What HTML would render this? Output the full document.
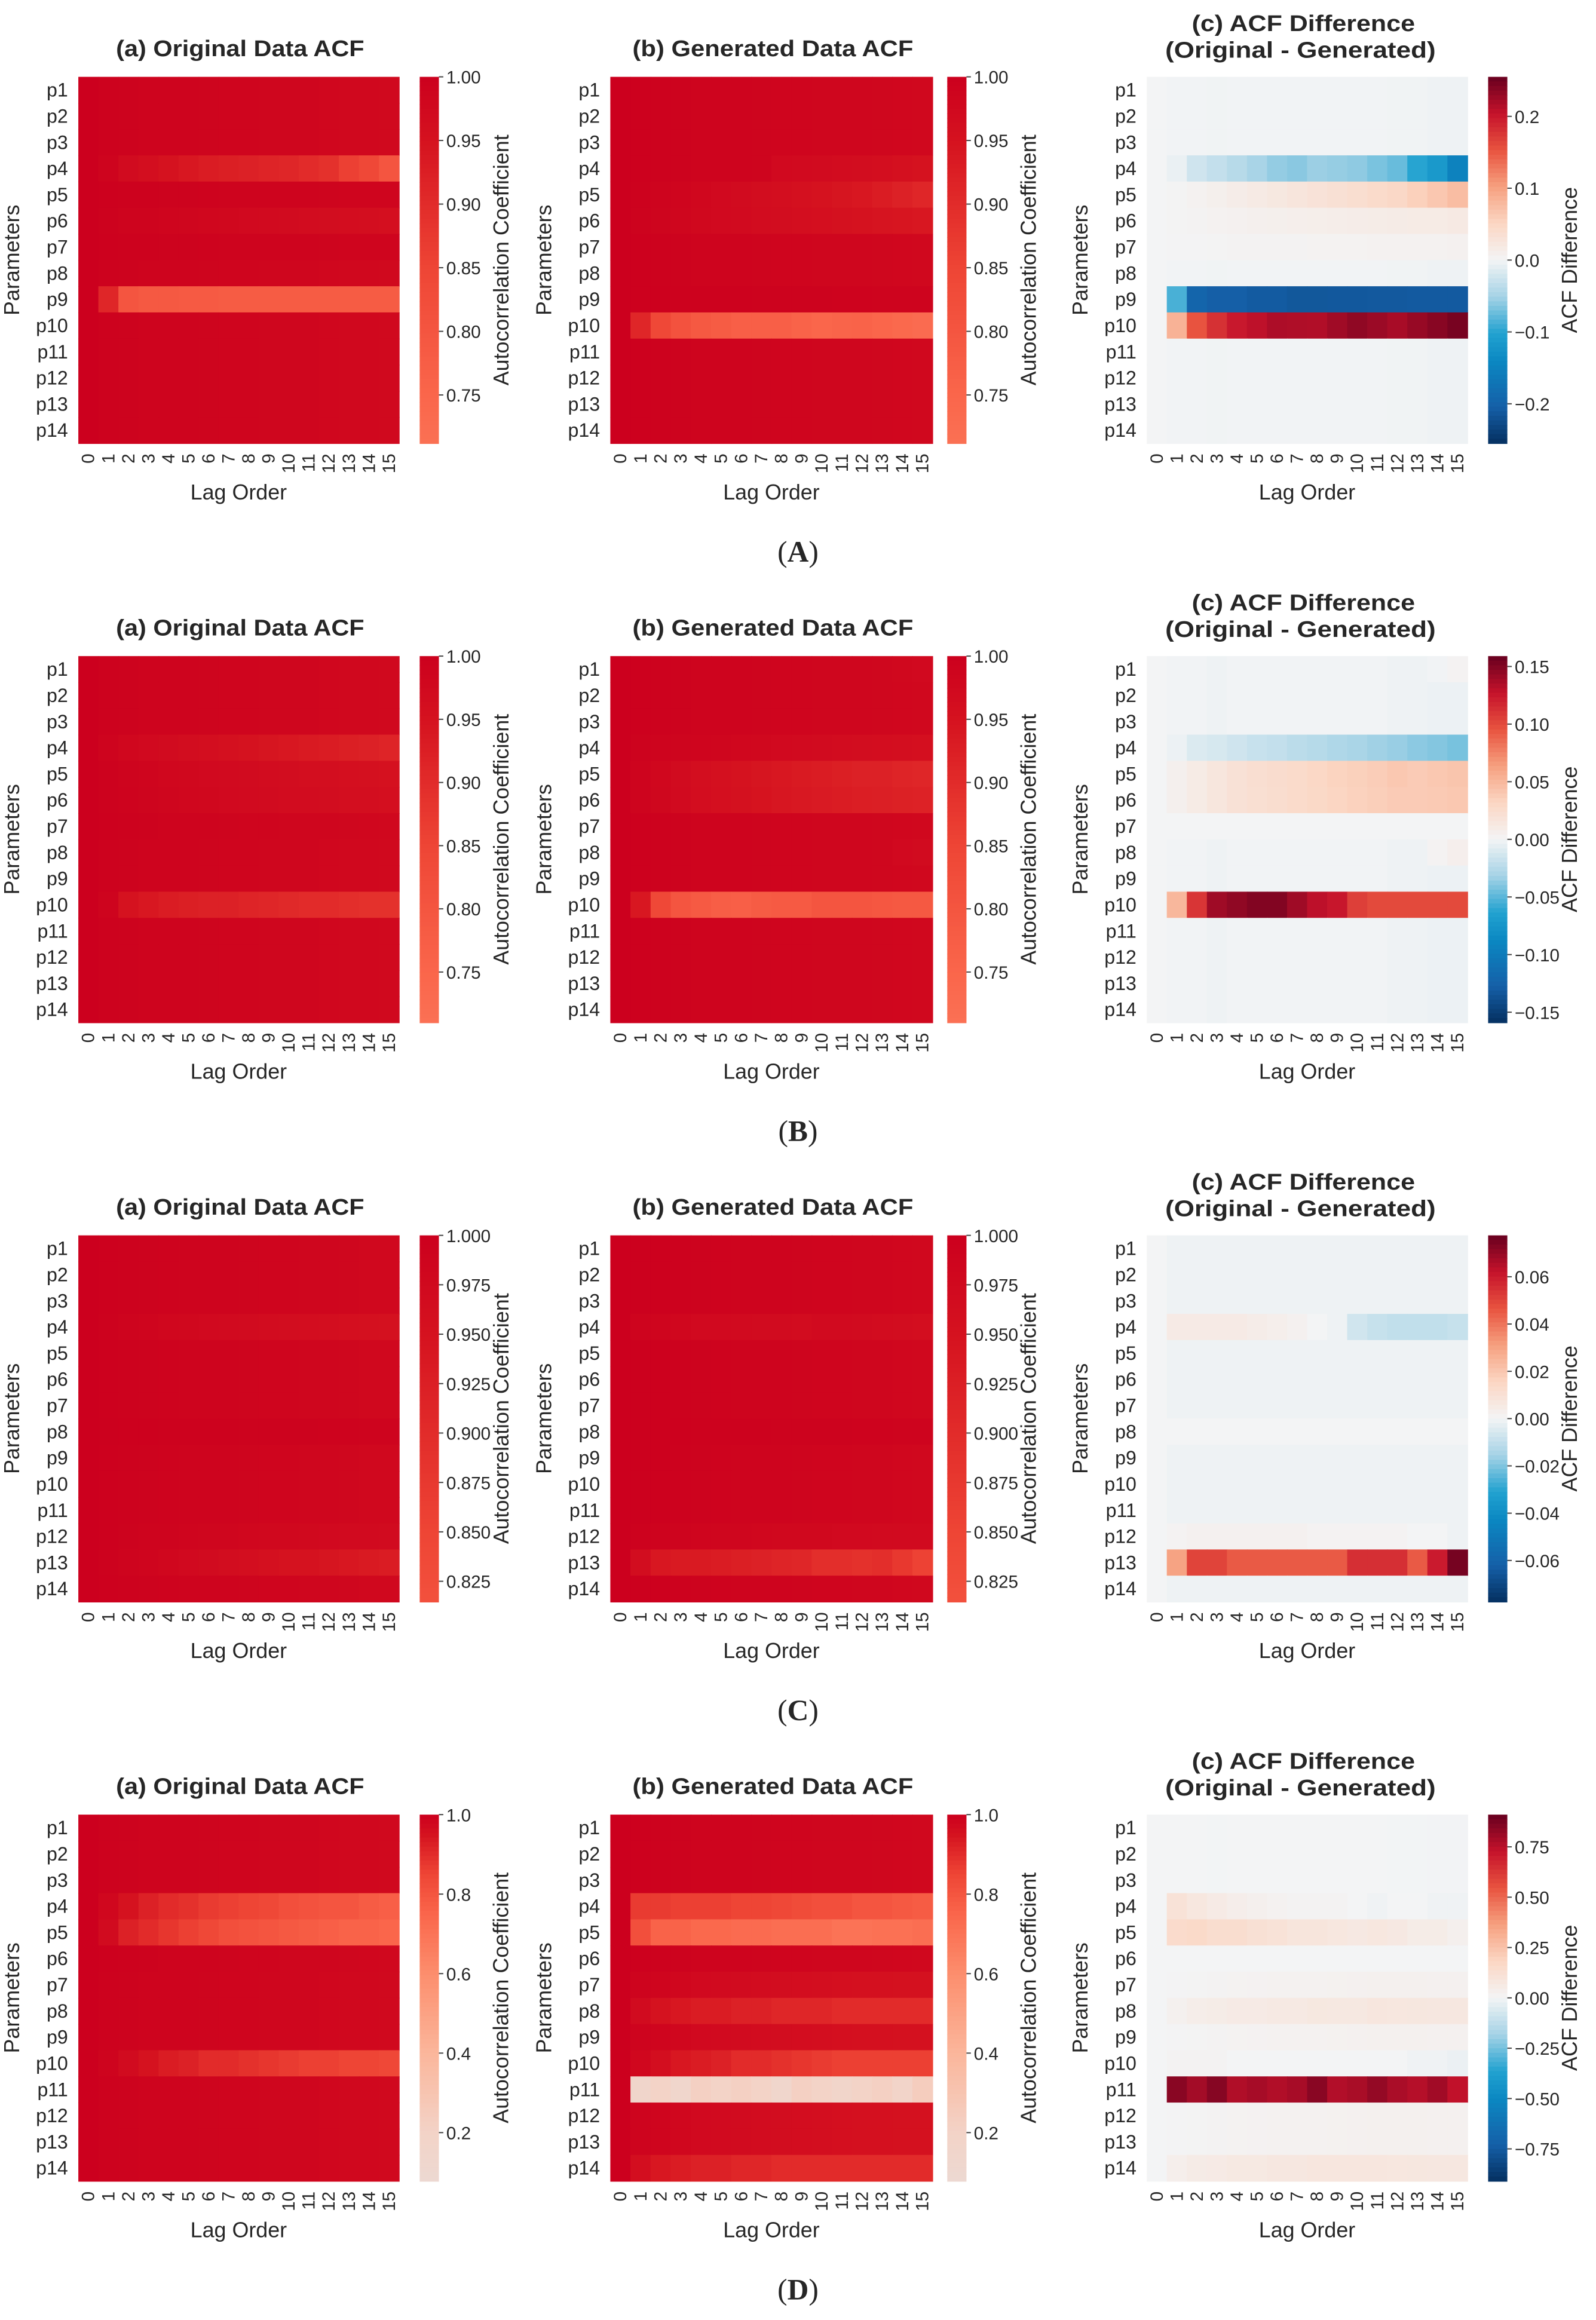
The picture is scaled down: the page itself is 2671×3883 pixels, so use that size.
<!DOCTYPE html>
<html><head><meta charset="utf-8"><style>
html,body{margin:0;padding:0;background:#fff}
svg{display:block}
text{font-family:"Liberation Sans",sans-serif;fill:#262626}
</style></head><body>
<svg id="fig" xmlns="http://www.w3.org/2000/svg" width="2671" height="3883" viewBox="0 0 1080 1570" preserveAspectRatio="none">
<rect width="1080" height="1570" fill="#fff"/>
</svg>
<script>
const params = ["p1","p2","p3","p4","p5","p6","p7","p8","p9","p10","p11","p12","p13","p14"];
const lags = [0,1,2,3,4,5,6,7,8,9,10,11,12,13,14,15];
const rowLetters = ["A","B","C","D"];

const A_orig = [
[1,.995,.993,.99,.989,.988,.987,.986,.985,.984,.983,.982,.98,.979,.977,.976],
[1,.995,.993,.99,.989,.988,.987,.986,.985,.984,.983,.982,.98,.979,.977,.976],
[1,.995,.993,.99,.989,.988,.987,.986,.985,.984,.983,.982,.98,.979,.977,.976],
[1,.99,.97,.96,.95,.94,.93,.925,.92,.915,.91,.9,.89,.86,.84,.80],
[1,.997,.995,.994,.993,.992,.991,.99,.99,.989,.988,.988,.987,.986,.985,.985],
[1,.995,.99,.988,.985,.983,.98,.978,.975,.972,.97,.968,.965,.963,.96,.958],
[1,.997,.995,.994,.993,.992,.991,.99,.99,.989,.988,.988,.987,.986,.985,.985],
[1,.995,.993,.99,.989,.988,.987,.986,.985,.984,.983,.982,.98,.979,.977,.976],
[1,.91,.8,.79,.79,.785,.785,.78,.78,.78,.78,.78,.78,.78,.78,.78],
[1,.995,.993,.99,.989,.988,.987,.986,.985,.984,.983,.982,.98,.979,.977,.976],
[1,.995,.993,.99,.989,.988,.987,.986,.985,.984,.983,.982,.98,.979,.977,.976],
[1,.995,.993,.99,.989,.988,.987,.986,.985,.984,.983,.982,.98,.979,.977,.976],
[1,.995,.993,.99,.989,.988,.987,.986,.985,.984,.983,.982,.98,.979,.977,.976],
[1,.995,.993,.99,.989,.988,.987,.986,.985,.984,.983,.982,.98,.979,.977,.976]];
const A_gen = [
[1,.996,.994,.992,.99,.989,.988,.987,.986,.985,.984,.983,.982,.981,.98,.979],
[1,.996,.994,.992,.99,.989,.988,.987,.986,.985,.984,.983,.982,.981,.98,.979],
[1,.996,.994,.992,.99,.989,.988,.987,.986,.985,.984,.983,.982,.981,.98,.979],
[1,.996,.994,.992,.99,.989,.988,.987,.975,.972,.97,.968,.965,.96,.955,.95],
[1,.995,.99,.985,.98,.975,.97,.965,.96,.955,.95,.945,.94,.93,.92,.91],
[1,.993,.987,.983,.979,.975,.971,.968,.964,.96,.957,.954,.95,.947,.944,.94],
[1,.996,.994,.992,.99,.989,.988,.987,.986,.985,.984,.983,.982,.981,.98,.979],
[1,.996,.994,.992,.99,.989,.988,.987,.986,.985,.984,.983,.982,.981,.98,.979],
[1,.997,.996,.995,.995,.994,.994,.993,.993,.992,.992,.991,.991,.99,.99,.99],
[1,.91,.84,.81,.79,.78,.77,.77,.77,.76,.75,.755,.76,.75,.74,.73],
[1,.996,.994,.992,.99,.989,.988,.987,.986,.985,.984,.983,.982,.981,.98,.979],
[1,.996,.994,.992,.99,.989,.988,.987,.986,.985,.984,.983,.982,.981,.98,.979],
[1,.996,.994,.992,.99,.989,.988,.987,.986,.985,.984,.983,.982,.981,.98,.979],
[1,.996,.994,.992,.99,.989,.988,.987,.986,.985,.984,.983,.982,.981,.98,.979]];

const B_orig = [
[1,.995,.993,.99,.989,.988,.987,.986,.985,.984,.983,.982,.98,.979,.977,.976],
[1,.995,.993,.99,.989,.988,.987,.986,.985,.984,.983,.982,.98,.979,.977,.976],
[1,.995,.993,.99,.989,.988,.987,.986,.985,.984,.983,.982,.98,.979,.977,.976],
[1,.99,.98,.975,.97,.965,.96,.955,.95,.945,.94,.935,.93,.925,.92,.915],
[1,.995,.99,.985,.98,.978,.975,.972,.97,.968,.965,.962,.96,.958,.955,.952],
[1,.995,.991,.987,.983,.98,.977,.975,.972,.97,.968,.966,.964,.962,.96,.958],
[1,.996,.994,.992,.99,.989,.988,.987,.986,.985,.984,.983,.982,.981,.98,.979],
[1,.995,.993,.99,.989,.988,.987,.986,.985,.984,.983,.982,.98,.979,.977,.976],
[1,.995,.993,.99,.989,.988,.987,.986,.985,.984,.983,.982,.98,.979,.977,.976],
[1,.99,.95,.94,.93,.925,.92,.92,.915,.91,.905,.9,.9,.895,.89,.89],
[1,.995,.993,.99,.989,.988,.987,.986,.985,.984,.983,.982,.98,.979,.977,.976],
[1,.995,.993,.99,.989,.988,.987,.986,.985,.984,.983,.982,.98,.979,.977,.976],
[1,.995,.993,.99,.989,.988,.987,.986,.985,.984,.983,.982,.98,.979,.977,.976],
[1,.995,.993,.99,.989,.988,.987,.986,.985,.984,.983,.982,.98,.979,.977,.976]];
const B_gen = [
[1,.996,.994,.992,.99,.989,.988,.987,.986,.985,.984,.983,.982,.981,.978,.974],
[1,.996,.994,.992,.99,.989,.988,.987,.986,.985,.984,.983,.982,.981,.98,.979],
[1,.996,.994,.992,.99,.989,.988,.987,.986,.985,.984,.983,.982,.981,.98,.979],
[1,.993,.99,.987,.985,.983,.98,.978,.975,.973,.97,.968,.965,.963,.96,.958],
[1,.99,.98,.97,.96,.955,.95,.945,.94,.935,.93,.925,.92,.92,.915,.91],
[1,.99,.981,.972,.963,.958,.953,.948,.943,.938,.934,.93,.926,.924,.921,.918],
[1,.996,.994,.992,.99,.989,.988,.987,.986,.985,.984,.983,.982,.981,.98,.979],
[1,.996,.994,.992,.99,.989,.988,.987,.986,.985,.984,.983,.982,.981,.975,.97],
[1,.996,.994,.992,.99,.989,.988,.987,.986,.985,.984,.983,.982,.981,.98,.979],
[1,.94,.84,.8,.785,.775,.77,.78,.785,.785,.8,.8,.8,.795,.79,.79],
[1,.996,.994,.992,.99,.989,.988,.987,.986,.985,.984,.983,.982,.981,.98,.979],
[1,.996,.994,.992,.99,.989,.988,.987,.986,.985,.984,.983,.982,.981,.98,.979],
[1,.996,.994,.992,.99,.989,.988,.987,.986,.985,.984,.983,.982,.981,.98,.979],
[1,.996,.994,.992,.99,.989,.988,.987,.986,.985,.984,.983,.982,.981,.98,.979]];

const C_orig = [
[1,.997,.995,.993,.991,.99,.989,.988,.987,.986,.985,.984,.982,.981,.979,.978],
[1,.997,.995,.993,.991,.99,.989,.988,.987,.986,.985,.984,.982,.981,.979,.978],
[1,.997,.995,.993,.991,.99,.989,.988,.987,.986,.985,.984,.982,.981,.979,.978],
[1,.995,.99,.985,.98,.978,.975,.972,.97,.967,.965,.963,.96,.958,.955,.953],
[1,.997,.995,.993,.991,.99,.989,.988,.987,.986,.985,.984,.982,.981,.979,.978],
[1,.997,.995,.993,.991,.99,.989,.988,.987,.986,.985,.984,.982,.981,.979,.978],
[1,.997,.995,.993,.991,.99,.989,.988,.987,.986,.985,.984,.982,.981,.979,.978],
[1,.998,.997,.996,.995,.995,.994,.994,.993,.993,.992,.992,.991,.991,.99,.99],
[1,.997,.995,.993,.991,.99,.989,.988,.987,.986,.985,.984,.982,.981,.979,.978],
[1,.997,.995,.993,.991,.99,.989,.988,.987,.986,.985,.984,.982,.981,.979,.978],
[1,.997,.995,.993,.991,.99,.989,.988,.987,.986,.985,.984,.982,.981,.979,.978],
[1,.996,.993,.99,.988,.986,.984,.982,.98,.979,.978,.976,.975,.973,.972,.97],
[1,.995,.99,.985,.98,.975,.97,.965,.96,.955,.95,.95,.945,.94,.935,.93],
[1,.997,.995,.993,.991,.99,.989,.988,.987,.986,.985,.984,.982,.981,.979,.978]];
const C_gen = [
[1,.998,.996,.994,.992,.991,.99,.989,.988,.987,.986,.985,.983,.982,.98,.979],
[1,.998,.996,.994,.992,.991,.99,.989,.988,.987,.986,.985,.983,.982,.98,.979],
[1,.998,.996,.994,.992,.991,.99,.989,.988,.987,.986,.985,.983,.982,.98,.979],
[1,.99,.985,.98,.975,.974,.972,.97,.97,.968,.972,.972,.97,.968,.965,.962],
[1,.998,.996,.994,.992,.991,.99,.989,.988,.987,.986,.985,.983,.982,.98,.979],
[1,.998,.996,.994,.992,.991,.99,.989,.988,.987,.986,.985,.983,.982,.98,.979],
[1,.998,.996,.994,.992,.991,.99,.989,.988,.987,.986,.985,.983,.982,.98,.979],
[1,.998,.997,.996,.995,.995,.994,.994,.993,.993,.992,.992,.991,.991,.99,.99],
[1,.998,.996,.994,.992,.991,.99,.989,.988,.987,.986,.985,.983,.982,.98,.979],
[1,.998,.996,.994,.992,.991,.99,.989,.988,.987,.986,.985,.983,.982,.98,.979],
[1,.998,.996,.994,.992,.991,.99,.989,.988,.987,.986,.985,.983,.982,.98,.979],
[1,.995,.991,.988,.986,.984,.982,.98,.979,.978,.977,.975,.974,.973,.972,.971],
[1,.965,.94,.935,.935,.93,.925,.92,.915,.91,.895,.895,.89,.895,.875,.855],
[1,.998,.996,.994,.992,.991,.99,.989,.988,.987,.986,.985,.983,.982,.98,.979]];

const D_orig = [
[1,.995,.993,.99,.989,.988,.987,.986,.985,.984,.983,.982,.98,.979,.977,.976],
[1,.995,.993,.99,.989,.988,.987,.986,.985,.984,.983,.982,.98,.979,.977,.976],
[1,.995,.993,.99,.989,.988,.987,.986,.985,.984,.983,.982,.98,.979,.977,.976],
[1,.98,.95,.92,.9,.89,.87,.86,.85,.84,.82,.81,.8,.8,.78,.77],
[1,.97,.92,.9,.88,.86,.84,.82,.81,.8,.79,.78,.77,.76,.76,.75],
[1,.996,.994,.992,.99,.989,.988,.987,.986,.985,.984,.983,.982,.981,.98,.979],
[1,.995,.993,.99,.989,.988,.987,.986,.985,.984,.983,.982,.98,.979,.977,.976],
[1,.995,.993,.99,.989,.988,.987,.986,.985,.984,.983,.982,.98,.979,.977,.976],
[1,.995,.993,.99,.989,.988,.987,.986,.985,.984,.983,.982,.98,.979,.977,.976],
[1,.99,.97,.95,.93,.92,.9,.9,.89,.88,.87,.86,.86,.85,.85,.84],
[1,.995,.993,.99,.989,.988,.987,.986,.985,.984,.983,.982,.98,.979,.977,.976],
[1,.995,.993,.99,.989,.988,.987,.986,.985,.984,.983,.982,.98,.979,.977,.976],
[1,.995,.993,.99,.989,.988,.987,.986,.985,.984,.983,.982,.98,.979,.977,.976],
[1,.995,.993,.99,.989,.988,.987,.986,.985,.984,.983,.982,.98,.979,.977,.976]];
const D_gen = [
[1,.996,.994,.992,.99,.989,.988,.987,.986,.985,.984,.983,.982,.981,.98,.979],
[1,.996,.994,.992,.99,.989,.988,.987,.986,.985,.984,.983,.982,.981,.98,.979],
[1,.996,.994,.992,.99,.989,.988,.987,.986,.985,.984,.983,.982,.981,.98,.979],
[1,.87,.87,.86,.86,.86,.85,.85,.84,.83,.82,.82,.8,.8,.79,.78],
[1,.82,.76,.76,.74,.74,.73,.73,.72,.72,.72,.7,.7,.71,.71,.72],
[1,.996,.994,.992,.99,.989,.988,.987,.986,.985,.984,.983,.982,.981,.98,.979],
[1,.99,.985,.98,.975,.972,.97,.968,.965,.963,.96,.958,.956,.955,.954,.953],
[1,.97,.95,.94,.93,.93,.92,.92,.91,.91,.91,.9,.9,.9,.9,.9],
[1,.99,.985,.98,.975,.972,.97,.968,.965,.963,.96,.958,.956,.955,.954,.953],
[1,.98,.96,.94,.93,.92,.9,.9,.89,.88,.87,.86,.86,.86,.86,.86],
[1,.15,.2,.14,.22,.2,.22,.2,.14,.22,.2,.16,.2,.22,.18,.24],
[1,.99,.985,.98,.975,.972,.97,.968,.965,.963,.96,.958,.956,.955,.954,.953],
[1,.99,.985,.98,.975,.972,.97,.968,.965,.963,.96,.958,.956,.955,.954,.953],
[1,.96,.94,.93,.92,.92,.91,.91,.9,.9,.9,.9,.9,.9,.9,.9]];

const origSets = [A_orig, B_orig, C_orig, D_orig];
const genSets = [A_gen, B_gen, C_gen, D_gen];
const acfMin = [0.712, 0.71, 0.8146, 0.078];
const acfTicks = [[1.0,0.95,0.9,0.85,0.8,0.75],[1.0,0.95,0.9,0.85,0.8,0.75],[1.0,0.975,0.95,0.925,0.9,0.875,0.85,0.825],[1.0,0.8,0.6,0.4,0.2]];
const acfDigits = [2,2,3,1];
const diffMax = [0.255, 0.159, 0.0775, 0.91];
const diffTicks = [[0.2,0.1,0,-0.1,-0.2],[0.15,0.1,0.05,0,-0.05,-0.1,-0.15],[0.06,0.04,0.02,0,-0.02,-0.04,-0.06],[0.75,0.5,0.25,0,-0.25,-0.5,-0.75]];
const diffDigits = [1,2,2,2];

const NS = "http://www.w3.org/2000/svg";
const svg = document.getElementById("fig");
function mk(tag, attrs, parent){const e=document.createElementNS(NS,tag);for(const k in attrs)e.setAttribute(k,attrs[k]);(parent||svg).appendChild(e);return e;}
function hex(h){return [parseInt(h.substr(1,2),16),parseInt(h.substr(3,2),16),parseInt(h.substr(5,2),16)];}
function ramp(stops,t){t=Math.max(stops[0][0],Math.min(stops[stops.length-1][0],t));
 for(let i=1;i<stops.length;i++){if(t<=stops[i][0]){const a=stops[i-1],b=stops[i];const f=(t-a[0])/(b[0]-a[0]);const c1=hex(a[1]),c2=hex(b[1]);
 return "rgb("+c1.map((v,k)=>Math.round(v+(c2[k]-v)*f)).join(",")+")";}}return stops[stops.length-1][1];}
const acfStops=[[0,"#e8dcd8"],[0.2,"#f3d3c7"],[0.4,"#fbb69b"],[0.6,"#fc8e6d"],[0.75,"#fa664b"],[0.85,"#ee4535"],[0.95,"#d5121f"],[1,"#cc001e"]];
const diffStops=[[-1,"#053061"],[-0.8,"#1560a8"],[-0.55,"#0b88c2"],[-0.4,"#22a2d0"],[-0.2,"#a6d3e6"],[0,"#f3f4f5"],[0.2,"#fbd6c3"],[0.4,"#f6a07f"],[0.6,"#e8533f"],[0.8,"#c5122b"],[1,"#67001f"]];
function fmt(v,d){const s=Math.abs(v).toFixed(d);return (v<0?"\u2212":"")+s;}

const HX=[53,413,776], HW=[217,218,217], CBX=[284,641,1007], CBW=13, HH=248;
const titles=["(a) Original Data ACF","(b) Generated Data ACF"];
const titleLen=[168,190];

for(let k=0;k<4;k++){
 const oy=392*k;
 const diffData=origSets[k].map((r,i)=>r.map((v,j)=>v-genSets[k][i][j]));
 const sets=[origSets[k],genSets[k],diffData];
 for(let p=0;p<3;p++){
  const hx=HX[p],hw=HW[p],hy=52+oy;
  const g=mk("g",{});
  
  
  const isDiff=p===2;
  const lo=isDiff?-diffMax[k]:acfMin[k], hi=isDiff?diffMax[k]:1.0;
  const xs=j=>hx+j*hw/lags.length, ys=i=>hy+i*HH/params.length;
  const col=v=>isDiff?ramp(diffStops,v/diffMax[k]):ramp(acfStops,v);
  sets[p].forEach((row,i)=>row.forEach((v,j)=>{
   const r=mk("rect",{x:xs(j),y:ys(i),width:hw/lags.length+0.4,height:HH/params.length+0.4,fill:col(v)},g);
   
   
  }));
  params.forEach((lab,i)=>{const t=mk("text",{x:hx-7,y:ys(i)+HH/params.length/2+4.5,"font-size":13,"text-anchor":"end"},g);t.textContent=lab;
   });
  lags.forEach((lab,j)=>{const cx=xs(j)+hw/lags.length/2+4;const t=mk("text",{x:cx,y:hy+HH+7,"font-size":12,"text-anchor":"end",transform:"rotate(-90 "+cx+" "+(hy+HH+7)+")"},g);t.textContent=lab;
   });
  const xl=mk("text",{x:hx+hw/2,y:hy+HH+38,"font-size":14.5,"text-anchor":"middle"},g);xl.textContent="Lag Order";
  
  const yx=hx-40, yc=hy+HH/2;
  const yl=mk("text",{x:yx,y:yc,"font-size":14.5,"text-anchor":"middle",transform:"rotate(-90 "+yx+" "+yc+")"},g);yl.textContent="Parameters";
  
  if(!isDiff){const t=mk("text",{x:hx+hw/2+1,y:oy+38,"font-size":15.5,"font-weight":"bold","text-anchor":"middle",textLength:titleLen[p],lengthAdjust:"spacingAndGlyphs"},g);t.textContent=titles[p];
   }
  else{const t1=mk("text",{x:882,y:oy+21,"font-size":15.5,"font-weight":"bold","text-anchor":"middle",textLength:151,lengthAdjust:"spacingAndGlyphs"},g);t1.textContent="(c) ACF Difference";
   
   const t2=mk("text",{x:880,y:oy+39,"font-size":15.5,"font-weight":"bold","text-anchor":"middle",textLength:183,lengthAdjust:"spacingAndGlyphs"},g);t2.textContent="(Original - Generated)";
   }
  const cb=mk("g",{});
  
  const cbx=CBX[p],N=80;
  for(let s=0;s<N;s++){const v=hi-(s+0.5)*(hi-lo)/N;mk("rect",{x:cbx,y:hy+s*HH/N,width:CBW,height:HH/N+0.4,fill:col(v)},cb);}
  const cy=v=>hy+(hi-v)/(hi-lo)*HH;
  const ticks=isDiff?diffTicks[k]:acfTicks[k], dg=isDiff?diffDigits[k]:acfDigits[k];
  ticks.forEach(v=>{const y=cy(v);mk("line",{x1:cbx+CBW,x2:cbx+CBW+3,y1:y,y2:y,stroke:"#444","stroke-width":0.8},cb);
   const t=mk("text",{x:cbx+CBW+5,y:y+4.5,"font-size":12},cb);t.textContent=fmt(v,dg);
   });
  const lx=cbx+CBW+47;
  const cl=mk("text",{x:lx,y:yc,"font-size":14.5,"text-anchor":"middle",transform:"rotate(-90 "+lx+" "+yc+")"},cb);
  cl.textContent=isDiff?"ACF Difference":"Autocorrelation Coefficient";
  
 }
 const rl=mk("text",{x:540,y:oy+380,"font-size":20,"text-anchor":"middle",style:"font-family:'Liberation Serif',serif"});
 rl.innerHTML='(<tspan font-weight="bold">'+rowLetters[k]+'</tspan>)';
 
 
}
</script>
</body></html>
